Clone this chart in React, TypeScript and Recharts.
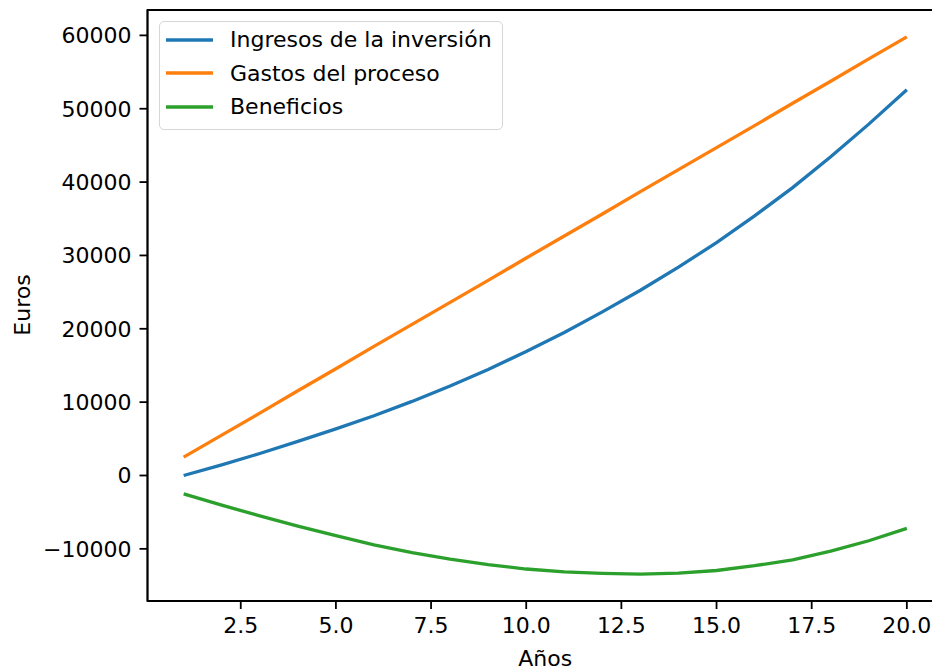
import React from "react";
import {
  LineChart,
  Line,
  XAxis,
  YAxis,
  Legend,
  ReferenceArea,
} from "recharts";

// años 1..20
const years = [1, 2, 3, 4, 5, 6, 7, 8, 9, 10, 11, 12, 13, 14, 15, 16, 17, 18, 19, 20];
const ingresos = [
  0, 1450, 3000, 4650, 6350, 8150, 10100, 12200, 14450, 16900,
  19500, 22300, 25250, 28400, 31750, 35400, 39250, 43450, 47900, 52600,
];
const gastos = [
  2500, 5500, 8500, 11550, 14550, 17600, 20600, 23600, 26600, 29650,
  32650, 35650, 38700, 41700, 44700, 47700, 50750, 53750, 56800, 59800,
];
const beneficios = [
  -2500, -4050, -5500, -6900, -8200, -9450, -10500, -11400, -12150, -12750,
  -13150, -13350, -13450, -13300, -12950, -12300, -11500, -10300, -8900, -7200,
];

const seriesNames = ["Ingresos de la inversión", "Gastos del proceso", "Beneficios"];
const seriesColors = ["#1f77b4", "#ff7f0e", "#2ca02c"];

const xTicks = [2.5, 5, 7.5, 10, 12.5, 15, 17.5, 20];
const yTicks = [-10000, 0, 10000, 20000, 30000, 40000, 50000, 60000];
const xDomain = [0.05, 20.95];
const yDomain = [-17110, 63460];

const data = years.map((year, i) => ({
  year,
  ingresos: ingresos[i],
  gastos: gastos[i],
  beneficios: beneficios[i],
}));

const FONT = "'DejaVu Sans', sans-serif";
const tickStyle = { fontSize: 22, fill: "#000", fontFamily: FONT };

const fmtY = (v: number) => (v < 0 ? `\u2212${Math.abs(v)}` : String(v));

function LegendBox({ payload }: any) {
  // keep matplotlib's order (plot order), recharts sorts the payload
  const items = [...(payload || [])].sort(
    (a: any, b: any) => seriesNames.indexOf(a.value) - seriesNames.indexOf(b.value)
  );
  return (
    <div
      style={{
        width: 344,
        height: 109,
        boxSizing: "border-box",
        border: "1.5px solid #d6d6d6",
        borderRadius: 5,
        background: "rgba(255,255,255,0.8)",
        paddingTop: 1,
        paddingLeft: 6,
        fontFamily: FONT,
        fontSize: 22,
        color: "#000",
      }}
    >
      {items.map((p: any) => (
        <div key={p.value} style={{ height: 33.5, display: "flex", alignItems: "center" }}>
          <svg width={47} height={6} style={{ marginRight: 17 }}>
            <line x1={0} y1={3} x2={47} y2={3} stroke={p.color} strokeWidth={3.3} />
          </svg>
          <span style={{ whiteSpace: "nowrap" }}>{p.value}</span>
        </div>
      ))}
    </div>
  );
}

function EurosLabel() {
  return (
    <text
      x={22}
      y={305}
      transform="rotate(-90, 22, 305)"
      textAnchor="middle"
      dominantBaseline="central"
      fontSize={22}
      fontFamily={FONT}
      fill="#000"
    >
      Euros
    </text>
  );
}

const seriesKeys = ["ingresos", "gastos", "beneficios"];

export default function App() {
  return (
    <div style={{ width: 932, height: 671, overflow: "hidden", position: "relative", background: "#fff" }}>
      <style>{"body{margin:0;overflow:hidden}"}</style>
      <LineChart width={943} height={671} data={data} margin={{ top: 10, right: 0, left: 0, bottom: 0 }}>
        <XAxis
          dataKey="year"
          type="number"
          domain={xDomain}
          allowDataOverflow
          ticks={xTicks}
          tickFormatter={(v: number) => v.toFixed(1)}
          tick={tickStyle}
          tickSize={8}
          tickMargin={8}
          height={70}
          stroke="#000"
          axisLine={{ stroke: "#000", strokeWidth: 1.8 }}
          tickLine={{ stroke: "#000", strokeWidth: 1.8 }}
          label={{ value: "Años", position: "insideBottom", offset: 5, fontSize: 22, fill: "#000", fontFamily: FONT }}
        />
        <YAxis
          type="number"
          domain={yDomain}
          allowDataOverflow
          ticks={yTicks}
          tickFormatter={fmtY}
          tick={tickStyle}
          tickSize={8}
          tickMargin={8}
          width={147.5}
          stroke="#000"
          axisLine={{ stroke: "#000", strokeWidth: 1.8 }}
          tickLine={{ stroke: "#000", strokeWidth: 1.8 }}
          label={{ content: () => <EurosLabel /> }}
        />
        <ReferenceArea
          x1={xDomain[0]}
          x2={xDomain[1]}
          y1={yDomain[0]}
          y2={yDomain[1]}
          fill="#fff"
          fillOpacity={0}
          stroke="#000"
          strokeWidth={1.8}
          ifOverflow="visible"
        />
        {seriesKeys.map((key, i) => (
          <Line
            key={key}
            type="linear"
            dataKey={key}
            name={seriesNames[i]}
            stroke={seriesColors[i]}
            strokeWidth={3.3}
            dot={false}
            activeDot={false}
            isAnimationActive={false}
          />
        ))}
        <Legend
          layout="vertical"
          align="center"
          verticalAlign="middle"
          content={<LegendBox />}
          wrapperStyle={{ position: "absolute", left: 159, top: 21, width: "auto", height: "auto" }}
        />
      </LineChart>
    </div>
  );
}
